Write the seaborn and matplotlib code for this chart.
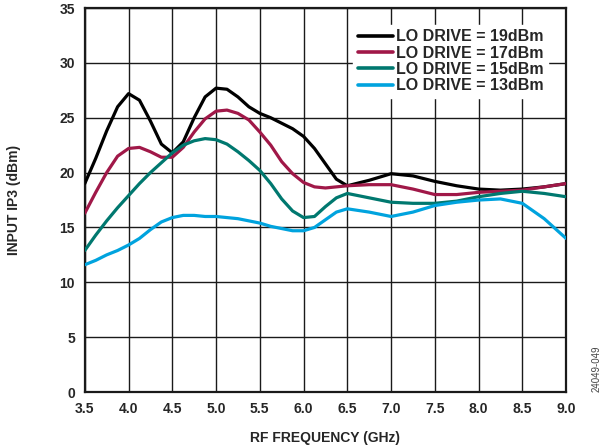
import numpy as np
import pandas as pd
import matplotlib
matplotlib.use("Agg")
import matplotlib.pyplot as plt
import seaborn as sns

# frequency points (GHz)
freq = [3.5, 3.625, 3.75, 3.875, 4.0, 4.125, 4.25, 4.375, 4.5, 4.625, 4.75, 4.875,
        5.0, 5.125, 5.25, 5.375, 5.5, 5.625, 5.75, 5.875, 6.0, 6.125, 6.25, 6.375,
        6.5, 6.75, 7.0, 7.25, 7.5, 7.75, 8.0, 8.25, 8.5, 8.75, 9.0]

ip3_19 = [19.0, 21.3, 23.8, 26.0, 27.2, 26.6, 24.7, 22.6, 21.8, 22.8, 25.0, 26.9,
          27.7, 27.6, 26.9, 26.0, 25.4, 25.0, 24.5, 24.0, 23.3, 22.2, 20.8, 19.4,
          18.8, 19.3, 19.9, 19.7, 19.2, 18.8, 18.5, 18.4, 18.5, 18.7, 19.0]
ip3_17 = [16.3, 18.2, 20.0, 21.5, 22.2, 22.3, 21.9, 21.4, 21.4, 22.3, 23.7, 24.9,
          25.6, 25.7, 25.4, 24.8, 23.7, 22.5, 21.0, 19.9, 19.1, 18.7, 18.6, 18.7,
          18.8, 18.9, 18.9, 18.5, 18.0, 18.0, 18.2, 18.3, 18.4, 18.7, 19.0]
ip3_15 = [12.9, 14.3, 15.6, 16.8, 17.9, 19.0, 20.0, 20.9, 21.8, 22.5, 22.9, 23.1,
          23.0, 22.6, 21.9, 21.1, 20.2, 19.0, 17.6, 16.5, 15.9, 16.0, 16.9, 17.7,
          18.1, 17.7, 17.3, 17.2, 17.2, 17.4, 17.8, 18.1, 18.3, 18.1, 17.8]
ip3_13 = [11.6, 12.0, 12.5, 12.9, 13.4, 14.0, 14.8, 15.5, 15.9, 16.1, 16.1, 16.0,
          16.0, 15.9, 15.8, 15.6, 15.4, 15.1, 14.9, 14.7, 14.7, 15.0, 15.7, 16.4,
          16.7, 16.4, 16.0, 16.4, 17.0, 17.3, 17.5, 17.6, 17.2, 15.8, 14.0]

labels = ["LO DRIVE = 19dBm", "LO DRIVE = 17dBm", "LO DRIVE = 15dBm", "LO DRIVE = 13dBm"]
colors = ["#000000", "#A01848", "#00786F", "#00A3DE"]

x_ticks = [3.5, 4.0, 4.5, 5.0, 5.5, 6.0, 6.5, 7.0, 7.5, 8.0, 8.5, 9.0]
y_ticks = [0, 5, 10, 15, 20, 25, 30, 35]

# long form table for seaborn
frames = []
for lab, vals in zip(labels, [ip3_19, ip3_17, ip3_15, ip3_13]):
    frames.append(pd.DataFrame({"freq": freq, "ip3": vals, "drive": lab}))
df = pd.concat(frames, ignore_index=True)

sns.set_style("white")
plt.rcParams["font.family"] = ["Liberation Sans", "DejaVu Sans"]
plt.rcParams["font.weight"] = "bold"

fig = plt.figure(figsize=(6.1, 4.48), dpi=100)
ax = fig.add_axes([0.139, 0.125, 0.789, 0.857])

sns.lineplot(data=df, x="freq", y="ip3", hue="drive", hue_order=labels,
             palette=colors, linewidth=2.3, ax=ax, legend=True, zorder=3)

ax.set_xlim(3.5, 9.0)
ax.set_ylim(0, 35)
ax.set_xticks(x_ticks)
ax.set_xticklabels([f"{t:.1f}" for t in x_ticks], fontsize=10, fontweight="bold")
ax.set_yticks(y_ticks)
ax.set_yticklabels([str(t) for t in y_ticks], fontsize=10, fontweight="bold")
ax.tick_params(length=0, pad=7)
ax.grid(True, color="#1a1a1a", linewidth=1.0)
ax.set_axisbelow(True)
for s in ax.spines.values():
    s.set_color("#1a1a1a")
    s.set_linewidth(1.6)

ax.set_xlabel("RF FREQUENCY (GHz)", fontsize=10, fontweight="bold", labelpad=11)
ax.set_ylabel("INPUT IP3 (dBm)", fontsize=10, fontweight="bold", labelpad=28)

leg = ax.legend(loc="upper left", bbox_to_anchor=(0.557, 0.957), fontsize=11.5,
                frameon=True, framealpha=1, edgecolor="white", fancybox=False,
                handlelength=2.2, handletextpad=0.2, labelspacing=0.08,
                borderpad=0.3, borderaxespad=0)
for t in leg.get_texts():
    t.set_fontweight("bold")
for h in leg.get_lines():
    h.set_linewidth(2.6)

fig.text(0.978, 0.125, "24049-049", rotation=90, fontsize=7, color="#444444",
         fontweight="normal", ha="center", va="bottom")

fig.savefig("out.png", dpi=100)
